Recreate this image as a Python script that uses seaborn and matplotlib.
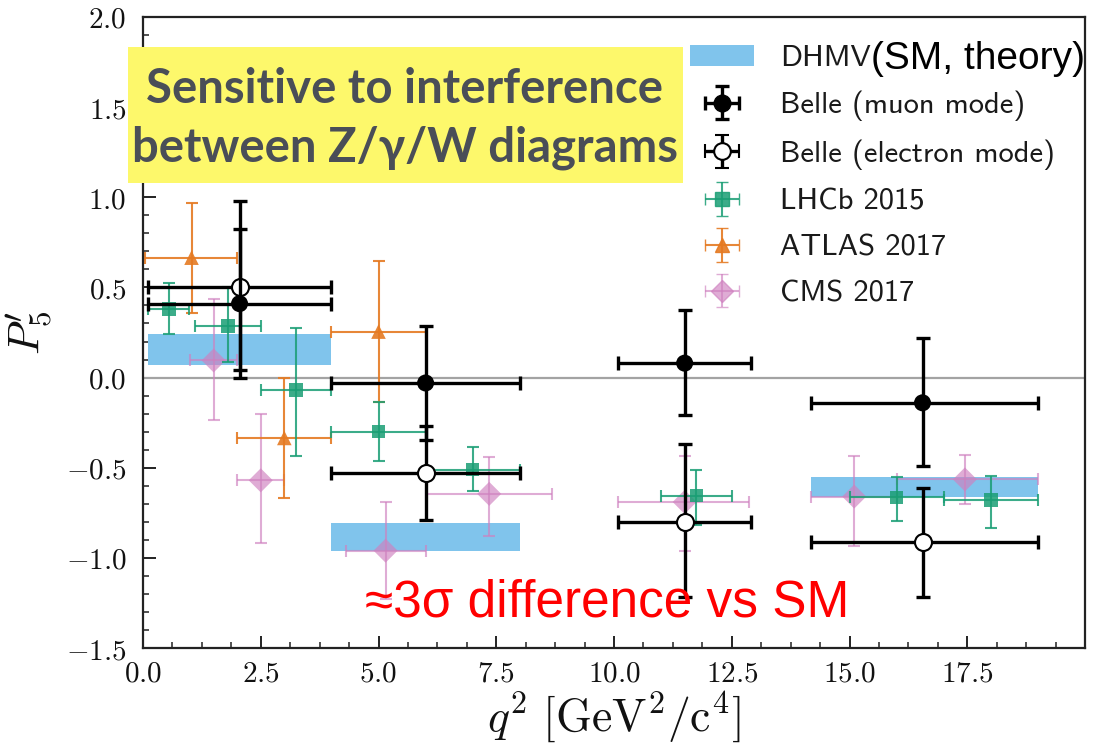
import numpy as np
import matplotlib
matplotlib.use("Agg")
import matplotlib.pyplot as plt
import seaborn as sns
from matplotlib.patches import Rectangle, Patch
from matplotlib.ticker import AutoMinorLocator, FuncFormatter
from matplotlib.legend_handler import HandlerErrorbar
from matplotlib.font_manager import FontProperties

# ---------------- data ----------------
dhmv_qlo = [0.1, 4.0, 14.18]
dhmv_qhi = [4.0, 8.0, 19.0]
dhmv_lo = [0.07, -0.96, -0.66]
dhmv_hi = [0.24, -0.805, -0.553]

belle_q = [2.05, 6.0, 11.5, 16.55]
belle_qlo = [0.1, 4.0, 10.09, 14.18]
belle_qhi = [4.0, 8.0, 12.9, 19.0]
belle_mu = [0.41, -0.03, 0.08, -0.14]
belle_mu_top = [0.98, 0.285, 0.375, 0.218]
belle_mu_bot = [0.04, -0.346, -0.21, -0.492]
belle_e = [0.505, -0.53, -0.80, -0.91]
belle_e_top = [0.825, -0.27, -0.368, -0.612]
belle_e_bot = [0.0, -0.79, -1.218, -1.215]

lhcb_q = [0.55, 1.8, 3.25, 5.0, 7.0, 11.75, 16.0, 18.0]
lhcb_qlo = [0.1, 1.1, 2.5, 4.0, 6.0, 11.0, 15.0, 17.0]
lhcb_qhi = [0.98, 2.5, 4.0, 6.0, 8.0, 12.5, 17.0, 19.0]
lhcb_p5 = [0.38, 0.285, -0.07, -0.30, -0.51, -0.655, -0.665, -0.68]
lhcb_top = [0.525, 0.505, 0.275, -0.137, -0.386, -0.513, -0.553, -0.544]
lhcb_bot = [0.24, 0.085, -0.433, -0.46, -0.63, -0.82, -0.793, -0.834]

atlas_q = [1.03, 3.0, 5.0]
atlas_qlo = [0.04, 2.0, 4.0]
atlas_qhi = [2.0, 4.0, 6.0]
atlas_p5 = [0.665, -0.335, 0.255]
atlas_top = [0.97, 0.0, 0.645]
atlas_bot = [0.358, -0.668, -0.137]

cms_q = [1.5, 2.5, 5.15, 7.35, 11.5, 15.1, 17.45]
cms_qlo = [1.0, 2.0, 4.3, 6.0, 10.09, 14.18, 16.0]
cms_qhi = [2.0, 3.0, 6.0, 8.68, 12.86, 16.0, 19.0]
cms_p5 = [0.095, -0.57, -0.96, -0.645, -0.69, -0.66, -0.565]
cms_top = [0.436, -0.20, -0.69, -0.438, -0.436, -0.436, -0.427]
cms_bot = [-0.235, -0.92, -1.23, -0.876, -0.96, -0.935, -0.70]

x_ticks = [0.0, 2.5, 5.0, 7.5, 10.0, 12.5, 15.0, 17.5]
y_ticks = [-1.5, -1.0, -0.5, 0.0, 0.5, 1.0, 1.5, 2.0]

legend_labels = ["DHMV", "Belle (muon mode)", "Belle (electron mode)",
                 "LHCb 2015", "ATLAS 2017", "CMS 2017"]

# ---------------- style ----------------
sns.set_theme(style="ticks")
plt.rcParams["mathtext.fontset"] = "cm"
plt.rcParams["font.family"] = ["DejaVu Sans"]

C_BAND = "#80c4ec"
C_LHCB = "#1a9e74"
C_ATLAS = "#e57a22"
C_CMS = "#cf80bf"

fig = plt.figure(figsize=(10.99, 7.55), dpi=100)
ax = fig.add_axes([143 / 1099, 1 - 648 / 755, (1085 - 143) / 1099, (648 - 17) / 755])


def errs(c, lo, hi):
    c = np.asarray(c); lo = np.asarray(lo); hi = np.asarray(hi)
    return np.vstack([c - lo, hi - c])


# DHMV bands
for a, b, lo, hi in zip(dhmv_qlo, dhmv_qhi, dhmv_lo, dhmv_hi):
    ax.bar(a, hi - lo, width=b - a, bottom=lo, align="edge", color=C_BAND,
           edgecolor="none", zorder=1)

ax.axhline(0.0, color="#a3a3a3", lw=1.6, zorder=0.8)

series = [
    (cms_q, cms_qlo, cms_qhi, cms_p5, cms_top, cms_bot, C_CMS, "D", 150, C_CMS, 0.65, 1.5, 4, 2),
    (atlas_q, atlas_qlo, atlas_qhi, atlas_p5, atlas_top, atlas_bot, C_ATLAS, "^", 110, C_ATLAS, 0.9, 1.5, 4, 2.2),
    (lhcb_q, lhcb_qlo, lhcb_qhi, lhcb_p5, lhcb_top, lhcb_bot, C_LHCB, "s", 95, C_LHCB, 0.85, 1.5, 4, 2.4),
    (belle_q, belle_qlo, belle_qhi, belle_e, belle_e_top, belle_e_bot, "black", "o", 150, "white", 1.0, 2.4, 5, 3),
    (belle_q, belle_qlo, belle_qhi, belle_mu, belle_mu_top, belle_mu_bot, "black", "o", 150, "black", 1.0, 2.4, 5, 3.2),
]
for q, qlo, qhi, v, top, bot, col, mk, s, face, al, lw, cap, z in series:
    ax.errorbar(q, v, xerr=errs(q, qlo, qhi), yerr=errs(v, bot, top), fmt="none",
                ecolor=col, elinewidth=lw, capsize=cap, capthick=lw, alpha=al, zorder=z)
    sns.scatterplot(x=q, y=v, marker=mk, s=s, color=face, edgecolor=col if face == "white" else "none",
                    linewidth=1.5 if face == "white" else 0, alpha=al, ax=ax, legend=False, zorder=z + 0.05)

# legend proxies
nan = [np.nan]
one = [[0.1], [0.1]]
h_band = Patch(facecolor=C_BAND, edgecolor="none")
h_mu = ax.errorbar(nan, nan, xerr=one, yerr=one, fmt="o", color="black", ms=12, elinewidth=2.4,
                   capsize=5, capthick=2.4)
h_e = ax.errorbar(nan, nan, xerr=one, yerr=one, fmt="o", color="black", mfc="white", mec="black",
                  mew=1.5, ms=12, elinewidth=2.4, capsize=5, capthick=2.4)
h_l = ax.errorbar(nan, nan, xerr=one, yerr=one, fmt="s", color=C_LHCB, ms=10, elinewidth=1.5,
                  capsize=4, alpha=0.85)
h_a = ax.errorbar(nan, nan, xerr=one, yerr=one, fmt="^", color=C_ATLAS, ms=10, elinewidth=1.5,
                  capsize=4, alpha=0.9)
h_c = ax.errorbar(nan, nan, xerr=one, yerr=one, fmt="D", color=C_CMS, ms=11, elinewidth=1.5,
                  capsize=4, alpha=0.65)

leg_font = FontProperties(family="cmss10", size=22)
leg = ax.legend([h_band, h_mu, h_e, h_l, h_a, h_c], legend_labels,
                loc="upper left", bbox_to_anchor=((690 - 143) / 942, (648 - 45) / 631),
                frameon=False, prop=leg_font, handlelength=2.1, handleheight=0.7,
                handletextpad=0.85, labelspacing=0.6, borderpad=0, borderaxespad=0,
                handler_map={type(h_mu): HandlerErrorbar(xerr_size=0.55)})
for t in leg.get_texts():
    t.set_color("#1a1a1a")

# axes formatting
ax.set_xlim(0, 20)
ax.set_ylim(-1.5, 2.0)
ax.set_xticks(x_ticks)
ax.set_yticks(y_ticks)
ax.xaxis.set_minor_locator(AutoMinorLocator(4))
ax.yaxis.set_minor_locator(AutoMinorLocator(5))
fmt = FuncFormatter(lambda v, p: "$%.1f$" % v)
ax.xaxis.set_major_formatter(fmt)
ax.yaxis.set_major_formatter(fmt)
ax.tick_params(which="both", direction="in", top=False, right=False, colors="#222222",
               labelsize=21, labelcolor="#111111")
ax.tick_params(which="major", length=9, width=1.4)
ax.tick_params(which="minor", length=4.5, width=1.1)
ax.tick_params(axis="y", pad=12)
ax.tick_params(axis="x", pad=8)
for sp in ax.spines.values():
    sp.set_visible(True)
    sp.set_color("#222222")
    sp.set_linewidth(1.6)

ax.set_xlabel(r"$q^2\ [\mathrm{GeV}^2/\mathrm{c}^4]$", fontsize=33, color="#111111", labelpad=2)
ax.set_ylabel(r"$P_5'$", fontsize=32, color="#111111")
ax.yaxis.set_label_coords(-0.093, 0.5)

ax.text(4.72, -1.25, "≈3σ difference vs SM", color="#ff0000", fontsize=37,
        family=["Liberation Sans", "DejaVu Sans"], ha="left", va="center", zorder=6)

# highlighted note box
fig.add_artist(Rectangle((128 / 1099, 1 - 183 / 755), 555 / 1099, 136 / 755,
                         transform=fig.transFigure, facecolor="#fdf86b", edgecolor="none", zorder=5))
fig.text(405 / 1099, 1 - 103 / 755, "Sensitive to interference", ha="center", va="baseline",
         fontsize=34, fontweight="bold", family=["Lato", "DejaVu Sans"], color="#4a4e57", zorder=6)
fig.text(405 / 1099, 1 - 162 / 755, "between Z/γ/W diagrams", ha="center", va="baseline",
         fontsize=34, fontweight="bold", family=["Lato", "DejaVu Sans"], color="#4a4e57", zorder=6)

# "(SM, theory)" appended right after the DHMV legend label
fig.canvas.draw()
bb = leg.get_texts()[0].get_window_extent(fig.canvas.get_renderer())
fig.text(bb.x1 / fig.bbox.width, (bb.y0 + bb.y1) / 2 / fig.bbox.height, "(SM, theory)",
         ha="left", va="center", fontsize=28, family=["Liberation Sans", "DejaVu Sans"],
         color="black", zorder=6)

fig.savefig("out.png", dpi=100)
